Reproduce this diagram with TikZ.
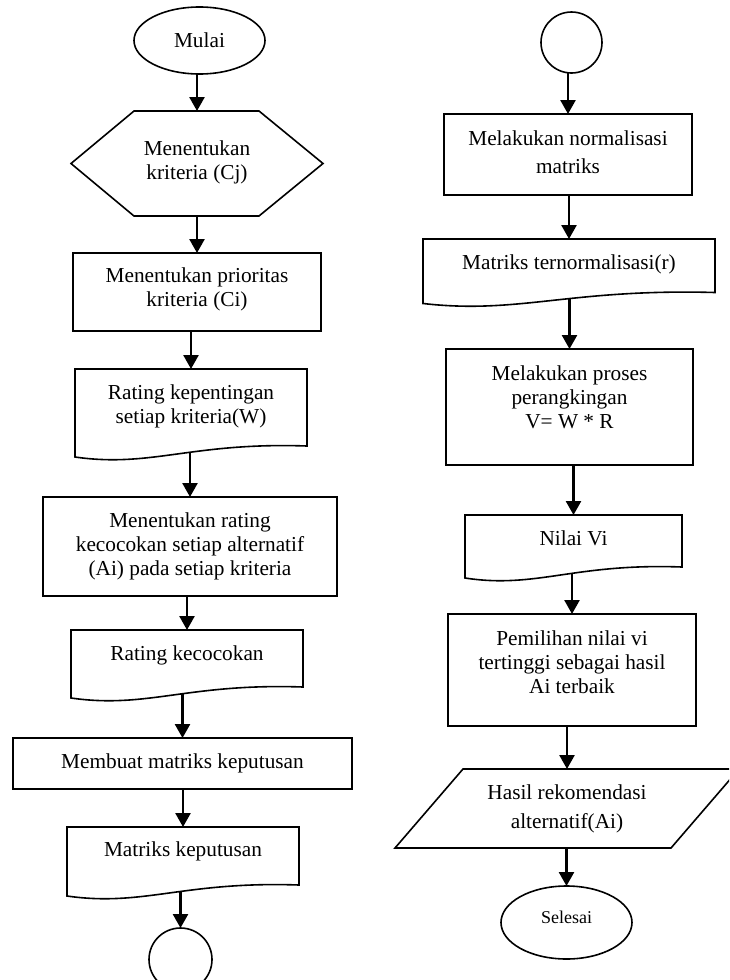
\documentclass[tikz,border=0pt]{standalone}
\usepackage{fontspec}
\setmainfont{Liberation Serif}
\usetikzlibrary{arrows.meta,calc,shapes.geometric}
\newcommand\rz[2]{\raisebox{#1}[\height][\depth]{\begin{tabular}{@{}c@{}}#2\end{tabular}}}
\newcommand\docpath[1]{%
  \draw[ln] (#1.north west) -- (#1.north east) -- ($(#1.south east)+(0,-6)$)
    .. controls ($(#1.south west)!0.5!(#1.south east)+(0,-10)$) and ($(#1.south west)!0.33!(#1.south east)+(0,16)$)
    .. ($(#1.south west)+(0,5)$) -- cycle;}
\begin{document}
\begin{tikzpicture}[x=1pt,y=-1pt,
  every node/.style={font=\fontsize{21.3}{24}\selectfont, inner sep=0pt, outer sep=0pt},
  ln/.style={line width=1.6pt, line join=miter},
  box/.style={draw, line width=1.6pt, rectangle},
  plain/.style={rectangle},
  oval/.style={draw, line width=1.6pt, ellipse},
  conn/.style={draw, line width=1.6pt, circle},
  arr/.style={line width=2.6pt, -{Triangle[length=14pt,width=15pt]}}]
\useasboundingbox (0,0) rectangle (729,980);
\clip (0,0) rectangle (729,980);
\fill[white] (0,0) rectangle (729,980);

% left column
\node[oval, minimum width=131pt, minimum height=67pt] (start) at (199.5,40.5) {Mulai};
\node[plain, minimum width=252pt, minimum height=105pt] (hex) at (197,163.5) {\rz{1pt}{Menentukan\\kriteria (Cj)}};
\draw[ln] (hex.west) -- ($(hex.north west)+(63,0)$) -- ($(hex.north east)+(-64,0)$) -- (hex.east)
  -- ($(hex.south east)+(-64,0)$) -- ($(hex.south west)+(63,0)$) -- cycle;
\node[box, minimum width=248pt, minimum height=78pt] (r1) at (197,292) {\rz{2pt}{Menentukan prioritas\\kriteria (Ci)}};
\node[plain, minimum width=232pt, minimum height=83pt] (d1) at (191,410.5) {\rz{3.5pt}{Rating kepentingan\\setiap kriteria(W)}};
\docpath{d1}
\node[box, minimum width=294pt, minimum height=99pt] (r2) at (190,546.5) {\rz{0pt}{Menentukan rating\\kecocokan setiap alternatif\\(Ai) pada setiap kriteria}};
\node[plain, minimum width=232pt, minimum height=63pt] (d2) at (187,661.5) {\rz{6pt}{Rating kecocokan}};
\docpath{d2}
\node[box, minimum width=339pt, minimum height=51pt] (r3) at (182.5,763.5) {\rz{0pt}{Membuat matriks keputusan}};
\node[plain, minimum width=232pt, minimum height=64pt] (d3) at (183,859) {\rz{7pt}{Matriks keputusan}};
\docpath{d3}
\node[conn, minimum size=63pt] (c1) at (180.5,959.5) {};

% right column
\node[conn, minimum size=61pt] (c2) at (571.5,42.5) {};
\node[box, minimum width=248pt, minimum height=81pt] (r4) at (568,154.5) {\rz{0pt}{Melakukan normalisasi\\[3.5pt]matriks}};
\node[plain, minimum width=292pt, minimum height=59.5pt] (d4) at (569,268.75) {\rz{4pt}{Matriks ternormalisasi(r)}};
\docpath{d4}
\node[box, minimum width=247pt, minimum height=116pt] (r5) at (569.5,407) {\rz{7pt}{Melakukan proses\\perangkingan\\V= W * R}};
\node[plain, minimum width=217pt, minimum height=58pt] (d5) at (573.5,544) {\rz{3pt}{Nilai Vi}};
\docpath{d5}
\node[box, minimum width=248pt, minimum height=112pt] (r6) at (572,670) {\rz{5pt}{Pemilihan nilai vi\\tertinggi sebagai hasil\\Ai terbaik}};
\node[plain, minimum width=276pt, minimum height=79pt] (para) at (567,808.5) {\rz{-1pt}{Hasil rekomendasi\\[5pt]alternatif(Ai)}};
\draw[ln] ($(para.south west)+(-34,0)$) -- ($(para.north west)+(34,0)$) -- ($(para.north east)+(34,0)$)
  -- ($(para.south east)+(-34,0)$) -- cycle;
\node[oval, minimum width=131pt, minimum height=73pt, font=\fontsize{18}{21}\selectfont] (end) at (566.5,922.5) {\raisebox{5pt}[\height][\depth]{Selesai}};

% connectors
\foreach \a/\b in {start/hex, hex/r1, r1/d1, d1/r2, r2/d2, d2/r3, r3/d3, d3/c1,
                   c2/r4, r4/d4, d4/r5, r5/d5, d5/r6, r6/para, para/end}
  \draw[arr] (\b.north |- \a.south) -- (\b.north);
\end{tikzpicture}
\end{document}
